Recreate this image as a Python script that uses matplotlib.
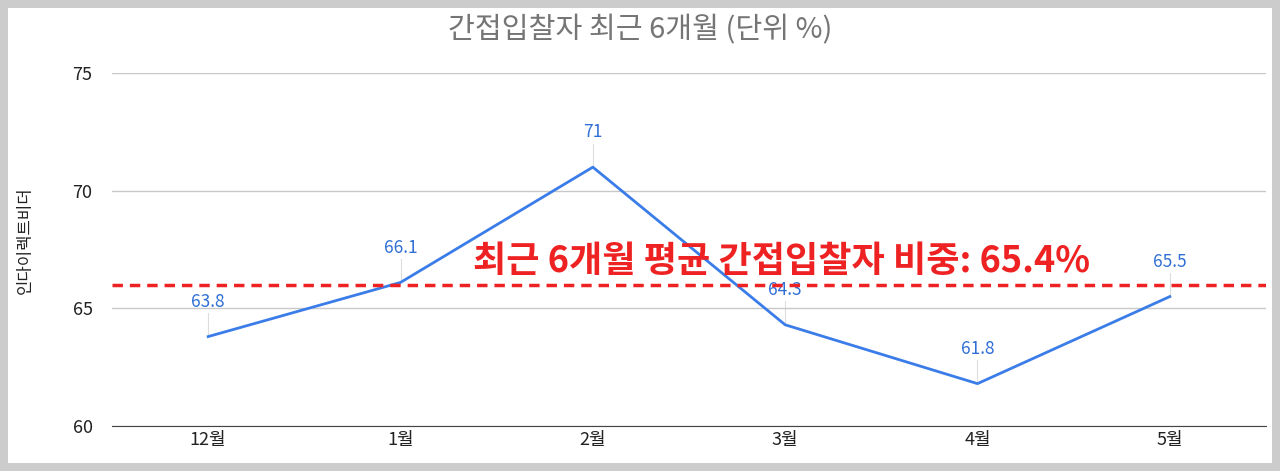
import matplotlib
matplotlib.use("Agg")
import matplotlib.pyplot as plt

plt.rcParams['font.family'] = ['Noto Sans CJK KR', 'DejaVu Sans']

months = ['12월', '1월', '2월', '3월', '4월', '5월']
values = [63.8, 66.1, 71, 64.3, 61.8, 65.5]
avg_line = 66
avg_text = '최근 6개월 평균 간접입찰자 비중: 65.4%'

fig = plt.figure(figsize=(12.8, 4.71), dpi=100, facecolor='#cccccc')
bg = fig.add_axes([0.006, 0.017, 0.988, 0.966])
bg.set_facecolor('white'); bg.set_xticks([]); bg.set_yticks([])
for s in bg.spines.values(): s.set_visible(False)

ax = fig.add_axes([112/1280, 1-426/471, (1266-112)/1280, (426-73)/471])
ax.set_facecolor('none')
x = list(range(len(months)))
ax.plot(x, values, color='#3b7de8', lw=2, zorder=3)
for xi, v in zip(x, values):
    ax.plot([xi, xi], [v, v + 1.0], color='#dddddd', lw=0.8, zorder=1)
    ax.text(xi, v + 1.1, f'{v:g}', color='#2f6fd6', fontsize=12.5, ha='center', va='bottom')
ax.axhline(avg_line, color='#ee2222', lw=2.5, ls=(0, (3, 2)), zorder=4)
ax.text(2.98, avg_line + 0.2, avg_text, color='#ee2222', fontsize=26, fontweight='bold',
        ha='center', va='bottom', zorder=5)
ax.set_xlim(-0.5, 5.5)
ax.set_ylim(60, 75)
ax.set_yticks([60, 65, 70, 75])
ax.set_xticks(x)
ax.set_xticklabels(months)
ax.grid(axis='y', color='#c8c8c8', lw=1)
ax.tick_params(length=0, labelsize=13, colors='#222222')
ax.tick_params(axis='y', pad=14)
for s in ['top', 'right', 'left']: ax.spines[s].set_visible(False)
ax.spines['bottom'].set_color('#444444')
fig.text(25/1280, 0.5*(1-73/471 + 1-426/471) + 0.02, '인다이렉트비더', rotation=90,
         ha='center', va='center', fontsize=12, color='#222222')
fig.text(0.5, 1-30/471, '간접입찰자 최근 6개월 (단위 %)', ha='center', va='center',
         fontsize=21, color='#757575')
fig.savefig('out.png', dpi=100, facecolor=fig.get_facecolor())
